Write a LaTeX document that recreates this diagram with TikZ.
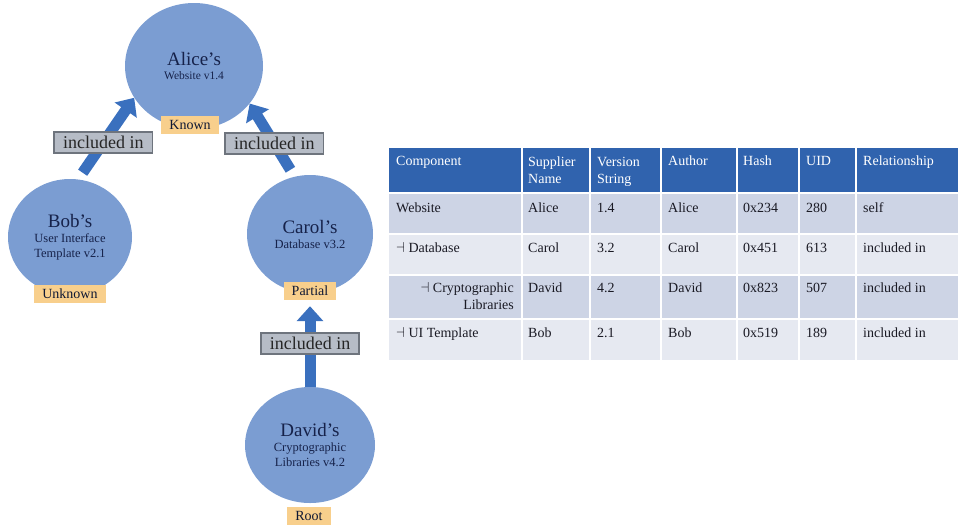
\documentclass[tikz,border=0pt]{standalone}
\usepackage{fontspec}
\setmainfont{Liberation Serif}
\usetikzlibrary{arrows.meta,shapes.geometric}
\pgfdeclarelayer{bg}
\pgfsetlayers{bg,main}
\definecolor{nodeblue}{HTML}{7B9DD2}
\definecolor{arrowblue}{HTML}{3A70BE}
\definecolor{inkblue}{HTML}{16224A}
\definecolor{tagorange}{HTML}{F8CF8C}
\definecolor{relgray}{HTML}{B6BCC6}
\definecolor{relborder}{HTML}{6E747D}
\definecolor{headblue}{HTML}{3063AE}
\definecolor{rowdark}{HTML}{CDD4E5}
\definecolor{rowlight}{HTML}{E6E9F1}
\definecolor{cellink}{HTML}{1A1A24}
\tikzset{person/.style={ellipse, fill=nodeblue, text=inkblue, align=center, inner sep=0mm, font=\fontsize{12.5}{15}\selectfont}}
\tikzset{tag/.style={fill=tagorange, text=inkblue!70!black, inner xsep=8pt, inner ysep=0mm, minimum height=18pt, font=\fontsize{14}{16}\selectfont}}
\tikzset{rel/.style={fill=relgray, draw=relborder, line width=1.5pt, text=black!85, inner xsep=9pt, inner ysep=4pt, text height=12.5pt, text depth=0.5pt, font=\fontsize{18}{20}\selectfont}}
\tikzset{flow/.style={draw=arrowblue, line width=11pt, -{Triangle[width=26pt,length=15pt]}}}
\tikzset{cell/.style={anchor=base west, inner sep=0mm, text=cellink, align=left, font=\fontsize{14}{17}\selectfont}}
\tikzset{headcell/.style={cell, text=white}}
\newcommand{\bigname}[1]{{\fontsize{19}{19}\selectfont #1}}

\begin{document}
\begin{tikzpicture}[x=1pt, y=-1pt]
    \useasboundingbox (0, 0) rectangle (960, 528);

    \node (alice) at (194, 66) [person, minimum width=138pt, minimum height=126pt, font=\fontsize{11.5}{14}\selectfont] {\bigname{Alice's}\\Website v1.4};
    \node (bob) at (70, 237) [person, minimum width=124pt, minimum height=116pt] {\bigname{Bob's}\\User Interface\\Template v2.1};
    \node (carol) at (310, 234) [person, minimum width=126pt, minimum height=118pt] {\bigname{Carol's}\\Database v3.2};
    \node (david) at (310, 445) [person, minimum width=130pt, minimum height=116pt] {\bigname{David's}\\Cryptographic\\Libraries v4.2};

    \node (known) at (190, 125) [tag] {Known};
    \node (unknown) at (70, 294) [tag] {Unknown};
    \node (partial) at (310, 291) [tag] {Partial};
    \node (root) at (309, 516) [tag] {Root};

    \begin{pgfonlayer}{bg}
        \draw[flow, shorten <=8pt] (bob.82) -- (alice.208) node[rel, pos=0.45] (incbob) {included in};
        \draw[flow, shorten <=8pt] (carol.105) -- (alice.326) node[rel, pos=0.45] (inccarol) {included in};
        \draw[flow, shorten >=6pt] (david) -- (partial) node[rel, pos=0.5] (incdavid) {included in};
    \end{pgfonlayer}

    % table
    \fill[headblue] (389, 148) rectangle (958, 193);
    \fill[rowdark] (389, 193) rectangle (958, 234);
    \fill[rowlight] (389, 234) rectangle (958, 275);
    \fill[rowdark] (389, 275) rectangle (958, 319);
    \fill[rowlight] (389, 319) rectangle (958, 360);
    \draw[white, line width=1.5pt] (522, 148) -- (522, 360) (590, 148) -- (590, 360) (661, 148) -- (661, 360)
        (737, 148) -- (737, 360) (799, 148) -- (799, 360) (856, 148) -- (856, 360);
    \draw[white, line width=2.5pt] (389, 193) -- (958, 193);
    \draw[white, line width=1.5pt] (389, 234) -- (958, 234) (389, 275) -- (958, 275) (389, 319) -- (958, 319);

    \node (comp0) at (396, 165) [headcell] {Component};
    \node (supp0) at (528, 183) [headcell] {Supplier\\Name};
    \node (vers0) at (597, 183) [headcell] {Version\\String};
    \node (auth0) at (668, 165) [headcell] {Author};
    \node (hash0) at (743, 165) [headcell] {Hash};
    \node (uid0) at (806, 165) [headcell] {UID};
    \node (rel0) at (863, 165) [headcell] {Relationship};

    \node (comp1) at (396, 212) [cell] {Website};
    \node (supp1) at (528, 212) [cell] {Alice};
    \node (vers1) at (597, 212) [cell] {1.4};
    \node (auth1) at (668, 212) [cell] {Alice};
    \node (hash1) at (743, 212) [cell] {0x234};
    \node (uid1) at (806, 212) [cell] {280};
    \node (rel1) at (863, 212) [cell] {self};

    \node (comp2) at (396, 252) [cell] {$\dashv$ Database};
    \node (supp2) at (528, 252) [cell] {Carol};
    \node (vers2) at (597, 252) [cell] {3.2};
    \node (auth2) at (668, 252) [cell] {Carol};
    \node (hash2) at (743, 252) [cell] {0x451};
    \node (uid2) at (806, 252) [cell] {613};
    \node (rel2) at (863, 252) [cell] {included in};

    \node (comp3) at (514, 309) [cell, anchor=base east, align=right] {$\dashv$ Cryptographic\\Libraries};
    \node (supp3) at (528, 292) [cell] {David};
    \node (vers3) at (597, 292) [cell] {4.2};
    \node (auth3) at (668, 292) [cell] {David};
    \node (hash3) at (743, 292) [cell] {0x823};
    \node (uid3) at (806, 292) [cell] {507};
    \node (rel3) at (863, 292) [cell] {included in};

    \node (comp4) at (396, 337) [cell] {$\dashv$ UI Template};
    \node (supp4) at (528, 337) [cell] {Bob};
    \node (vers4) at (597, 337) [cell] {2.1};
    \node (auth4) at (668, 337) [cell] {Bob};
    \node (hash4) at (743, 337) [cell] {0x519};
    \node (uid4) at (806, 337) [cell] {189};
    \node (rel4) at (863, 337) [cell] {included in};
\end{tikzpicture}
\end{document}
